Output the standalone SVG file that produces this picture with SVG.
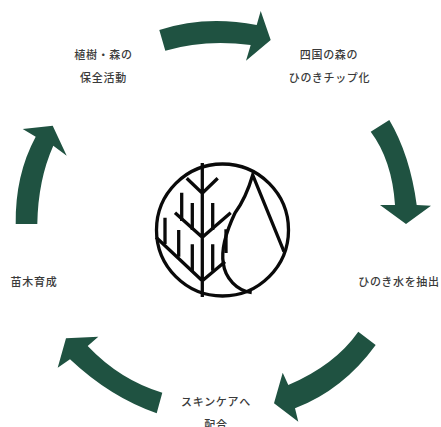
<svg xmlns="http://www.w3.org/2000/svg" width="441" height="427" viewBox="0 0 441 427">
<style>
.arrow{fill:#1f5241}
.lbl{font-family:"Noto Sans CJK JP","Noto Sans",sans-serif;font-size:11px;font-weight:500;letter-spacing:.7px;fill:#3a3a3a}
.logo{fill:none;stroke:#0a0a0a;stroke-width:3.3}
</style>
<rect width="441" height="427" fill="#fff"/>
<g id="connectors">
<path class="arrow" d="M159.3 30Q205 15 256.7 25L260.7 11L270.7 40L246 60.700L250.700 45Q205 39 165.3 50.7Z"/>
<path class="arrow" d="M389.3 120Q410 155 416.7 205L431 205.7L406 224L380 205L395 205Q392 160 370.7 131.7Z"/>
<path class="arrow" d="M375.7 345Q343 390 295 408.3L298.3 421.7L274 403.3L282.7 372.7L288.3 385Q335 365 358.3 331.7Z"/>
<path class="arrow" d="M156.7 413.3Q110 397 70 359.3L57.7 367.7L66 338.3L98.3 336.7L87.7 346Q120 380 162.3 392.7Z"/>
<path class="arrow" d="M15.7 224Q15 175 35.7 136.7L22.7 129L52.7 125.7L66.7 155.7L53.3 145.7Q38 180 37.3 224Z"/>
</g>
<g id="logo" class="logo">
<circle cx="222.5" cy="230" r="66"/>
<path d="M202.3 163V297M186.7 178.3L202.3 193.3L217.7 178.3M175 212.7L202.3 237.3L230.7 212.7M156 237.3L202.3 280.7L225 261.7"/>
<path d="M181.7 192.7V221M192.3 203V230M212.7 203V230M165 217.7V244M178.7 230V256.7M192.3 244.3V271.7M212.7 244.3V270.7M226 229.3V253"/>
<path d="M284 251.7L252.7 175Q246 198 235 213C226 232 221 250 223.3 263.3C225 278 237 291 251.7 292.5"/>
</g>
<g id="node-forest"><text class="lbl" x="103.5" y="59" text-anchor="middle">植樹・森の</text><text class="lbl" x="103.5" y="82" text-anchor="middle">保全活動</text></g>
<g id="node-chip"><text class="lbl" x="329" y="59" text-anchor="middle">四国の森の</text><text class="lbl" x="329.5" y="82" text-anchor="middle">ひのきチップ化</text></g>
<g id="node-water"><text class="lbl" x="399" y="286" text-anchor="middle">ひのき水を抽出</text></g>
<g id="node-skincare"><text class="lbl" x="216" y="405.5" text-anchor="middle">スキンケアへ</text><text class="lbl" x="216" y="429" text-anchor="middle">配合</text></g>
<g id="node-seedling"><text class="lbl" x="34" y="286" text-anchor="middle">苗木育成</text></g>
</svg>
